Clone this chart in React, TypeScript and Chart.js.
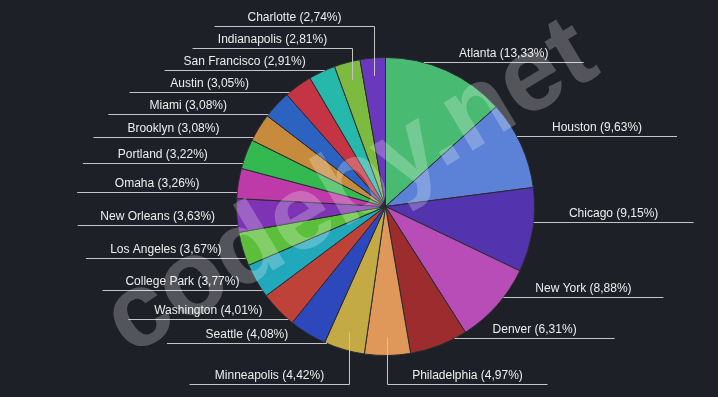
import React, { useEffect, useRef } from "react";
import { Chart, registerables } from "chart.js";

Chart.register(...registerables);

const cities = [
  "Atlanta", "Houston", "Chicago", "New York", "Denver", "Philadelphia",
  "Minneapolis", "Seattle", "Washington", "College Park", "Los Angeles",
  "New Orleans", "Omaha", "Portland", "Brooklyn", "Miami", "Austin",
  "San Francisco", "Indianapolis", "Charlotte",
];

const shares = [
  13.33, 9.63, 9.15, 8.88, 6.31, 4.97, 4.42, 4.08, 4.01, 3.77, 3.67,
  3.63, 3.26, 3.22, 3.08, 3.08, 3.05, 2.91, 2.81, 2.74,
];

const sliceColors = [
  "#48ba72", "#5b82d6", "#5434ae", "#b84db8", "#9c2c2e", "#e0985a",
  "#c4aa44", "#2c48bc", "#bf4238", "#22a8bb", "#5bbf3b", "#7d33b3",
  "#bd3aa8", "#34b850", "#c88a3c", "#2c62c0", "#c43444", "#26b8aa",
  "#7cba40", "#6a38bc",
];

const BG = "#1e2028";
const watermarkText = "codeby.net";

function fmt(v: number) {
  return v.toFixed(2).replace(".", ",") + "%";
}

const bgPlugin = {
  id: "bgFill",
  beforeDraw(chart: any) {
    const ctx = chart.ctx;
    ctx.save();
    ctx.fillStyle = BG;
    ctx.fillRect(0, 0, chart.width, chart.height);
    ctx.restore();
  },
};

const outsideLabels = {
  id: "outsideLabels",
  afterDatasetsDraw(chart: any) {
    const ctx = chart.ctx;
    const meta = chart.getDatasetMeta(0);
    const labels = chart.data.labels;
    const data = chart.data.datasets[0].data;
    const items = meta.data.map((arc: any, i: number) => {
      const p = arc.getProps(["x", "y", "startAngle", "endAngle", "outerRadius"], true);
      const mid = (p.startAngle + p.endAngle) / 2;
      const ax = p.x + Math.cos(mid) * p.outerRadius;
      const ay = p.y + Math.sin(mid) * p.outerRadius;
      const right = ax >= p.x;
      return {
        i, p, mid, ax, ay, right,
        y: ay + (right ? -8 : 9),
        text: `${labels[i]} (${fmt(data[i])})`,
      };
    });
    const GAP = 22;
    for (const side of [true, false]) {
      const list = items.filter((it: any) => it.right === side);
      if (!list.length) continue;
      const cy = list[0].p.y;
      const r = list[0].p.outerRadius;
      const upper = list.filter((it: any) => it.ay < cy).sort((a: any, b: any) => b.ay - a.ay);
      const lower = list.filter((it: any) => it.ay >= cy).sort((a: any, b: any) => a.ay - b.ay);
      let prev = Infinity;
      for (const it of upper) { it.y = Math.min(it.y, prev - GAP); prev = it.y; }
      prev = -Infinity;
      for (const it of lower) {
        it.y = Math.max(it.y, prev + GAP);
        if (it.y > cy + r - 4) it.y = Math.max(it.y, cy + r + 28);
        prev = it.y;
      }
    }

    ctx.save();
    ctx.font = "12px 'Liberation Sans', Arial, sans-serif";
    ctx.lineWidth = 1;
    ctx.strokeStyle = "#c4c4c4";
    ctx.fillStyle = "#eeeeee";
    ctx.textAlign = "center";
    ctx.textBaseline = "alphabetic";
    for (const it of items) {
      const p = it.p;
      const r = p.outerRadius;
      const ly = Math.round(it.y) + 0.5;
      const dy = ly - p.y;
      let startX: number | null = null;
      if (Math.abs(dy) < r) {
        const dx = Math.sqrt(r * r - dy * dy);
        const cx = p.x + (it.right ? dx : -dx);
        let a = Math.atan2(dy, cx - p.x);
        const lo = p.startAngle - 0.05;
        while (a < lo) a += 2 * Math.PI;
        while (a >= lo + 2 * Math.PI) a -= 2 * Math.PI;
        if (a <= p.endAngle + 0.05) startX = cx;
      }
      ctx.beginPath();
      if (startX === null) {
        const bx = Math.round(p.x + Math.cos(it.mid) * r * 0.88) + 0.5;
        const by = p.y + Math.sin(it.mid) * r * 0.88;
        ctx.moveTo(bx, by);
        ctx.lineTo(bx, ly);
        startX = bx;
      } else {
        ctx.moveTo(startX, ly);
      }
      const endX = startX + (it.right ? 160 : -160);
      ctx.lineTo(endX, ly);
      ctx.stroke();
      ctx.fillText(it.text, (startX + endX) / 2, ly - 6);
    }
    ctx.restore();
  },
};

const watermark = {
  id: "watermark",
  afterDraw(chart: any) {
    const ctx = chart.ctx;
    ctx.save();
    ctx.translate(chart.width * 0.51, chart.height * 0.54);
    ctx.rotate((-31 * Math.PI) / 180);
    ctx.font = "bold 106px 'Liberation Sans', Arial, sans-serif";
    ctx.fillStyle = "rgba(255,255,255,0.24)";
    ctx.textAlign = "center";
    ctx.textBaseline = "alphabetic";
    ctx.fillText(watermarkText, 0, 0);
    ctx.restore();
  },
};

export default function App() {
  const ref = useRef<HTMLCanvasElement | null>(null);
  useEffect(() => {
    if (!ref.current) return;
    const chart = new Chart(ref.current, {
      type: "pie",
      data: {
        labels: cities,
        datasets: [
          {
            data: shares,
            backgroundColor: sliceColors,
            borderColor: "#2a2b30",
            borderWidth: 1,
          },
        ],
      },
      options: {
        responsive: false,
        animation: false,
        layout: { padding: { left: 236, right: 183, top: 57, bottom: 41 } },
        plugins: {
          legend: { display: false },
          tooltip: { enabled: false },
        },
      },
      plugins: [bgPlugin, outsideLabels, watermark],
    });
    return () => chart.destroy();
  }, []);
  return (
    <div style={{ position: "fixed", left: 0, top: 0, width: 718, height: 397, background: BG }}>
      <canvas ref={ref} width={718} height={397} style={{ display: "block" }} />
    </div>
  );
}
